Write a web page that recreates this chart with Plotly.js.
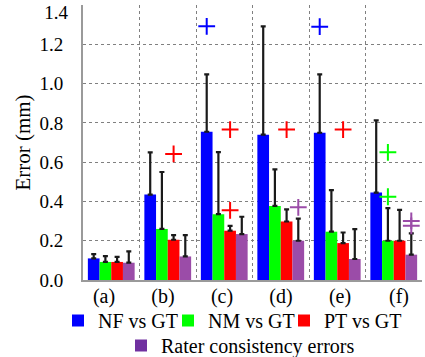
<!DOCTYPE html>
<html>
<head>
<meta charset="utf-8">
<script src="https://cdn.plot.ly/plotly-3.0.1.min.js"></script>
<style>html,body{margin:0;padding:0;background:#fff;} #chart{width:425px;height:357px;}</style>
</head>
<body>
<div id="chart"></div>
<script>
// ---- data ----
const categories = ['(a)', '(b)', '(c)', '(d)', '(e)', '(f)'];
const seriesNames = ['NF vs GT', 'NM vs GT', 'PT vs GT', 'Rater consistency errors'];
const nfMean = [0.11, 0.435, 0.755, 0.74, 0.75, 0.445];
const nmMean = [0.092, 0.26, 0.335, 0.377, 0.246, 0.20];
const ptMean = [0.092, 0.205, 0.251, 0.298, 0.188, 0.20];
const rcMean = [0.088, 0.12, 0.234, 0.20, 0.107, 0.129];
const nfErrTop = [0.132, 0.65, 1.047, 1.292, 1.047, 0.813];
const nmErrTop = [0.122, 0.55, 0.651, 0.563, 0.458, 0.366];
const ptErrTop = [0.118, 0.229, 0.276, 0.36, 0.242, 0.357];
const rcErrTop = [0.146, 0.229, 0.322, 0.313, 0.259, 0.237];
// outliers: category index and value
const nfOutCat = [2, 4], nfOutVal = [1.292, 1.29];
const nmOutCat = [5, 5], nmOutVal = [0.65, 0.424];
const ptOutCat = [1, 2, 2, 3, 4], ptOutVal = [0.642, 0.766, 0.355, 0.766, 0.766];
const rcOutCat = [3, 5, 5], rcOutVal = [0.37, 0.301, 0.276];
const yTicks = [0, 0.2, 0.4, 0.6, 0.8, 1.0, 1.2, 1.4];

// ---- styling ----
const colors = ['#0000ff', '#00ff00', '#ff0000', '#9b4ca8'];
const legendColors = ['#0000ff', '#00ff00', '#ff0000', '#7030a0'];
const font = '"Times New Roman", "Liberation Serif", Times, serif';
const barW = 0.207;
const idx = categories.map((_, i) => i);
const legendIds = ['legend', 'legend2', 'legend3', 'legend4'];

const means = [nfMean, nmMean, ptMean, rcMean];
const tops = [nfErrTop, nmErrTop, ptErrTop, rcErrTop];
const outCats = [nfOutCat, nmOutCat, ptOutCat, rcOutCat];
const outVals = [nfOutVal, nmOutVal, ptOutVal, rcOutVal];

const traces = [];
means.forEach((m, s) => {
  const off = (s - 2) * barW;
  traces.push({
    type: 'bar', x: idx, y: m, width: barW, offset: off,
    name: seriesNames[s], showlegend: false,
    marker: {color: colors[s], line: {width: 0}},
    error_y: {type: 'data', symmetric: false,
      array: tops[s].map((t, i) => t - m[i]), arrayminus: m.map(() => 0),
      color: '#1a1a1a', thickness: 2.2, width: 2.5},
    hoverinfo: 'skip'
  });
});
outCats.forEach((c, s) => {
  const off = (s - 2) * barW + barW / 2;
  traces.push({
    type: 'scatter', mode: 'markers', x: c.map(v => v + off), y: outVals[s],
    showlegend: false, hoverinfo: 'skip',
    marker: {symbol: 'cross-thin-open', size: 12, line: {width: 2, color: colors[s]}, color: colors[s]}
  });
});
// legend entries (one legend each for free placement)
seriesNames.forEach((n, s) => {
  traces.push({type: 'bar', x: [null], y: [null], name: n, legend: legendIds[s],
    marker: {color: legendColors[s]}, showlegend: true, hoverinfo: 'skip'});
});
// dummy traces for label axes
traces.push({type: 'scatter', x: [null], y: [null], xaxis: 'x2', showlegend: false, hoverinfo: 'skip'});
traces.push({type: 'scatter', x: [null], y: [null], yaxis: 'y2', showlegend: false, hoverinfo: 'skip'});

const legBase = {orientation: 'h', xref: 'container', yref: 'container', xanchor: 'left', yanchor: 'top',
  font: {family: font, size: 20}, bgcolor: 'rgba(0,0,0,0)', borderwidth: 0};
const legPos = [[58, 301], [168, 301], [284, 301], [121, 326]];

const layout = {
  width: 425, height: 357,
  margin: {l: 83, r: 3, t: 5, b: 77},
  paper_bgcolor: '#fff', plot_bgcolor: '#fff',
  font: {family: font, size: 19, color: '#000'},
  barmode: 'overlay',
  showlegend: true,
  xaxis: {
    range: [-0.5, 5.5], showticklabels: false, ticks: '',
    tickvals: [], showgrid: false, zeroline: false,
    showline: true, linecolor: '#9a9a9a', linewidth: 2,
    minor: {tickvals: [0.5, 1.5, 2.5, 3.5, 4.5, 5.5], showgrid: true, griddash: 'dot', gridcolor: '#808080', gridwidth: 1, ticks: ''}
  },
  xaxis2: {
    overlaying: 'x', anchor: 'y', side: 'bottom', range: [-0.356, 5.39],
    tickvals: idx, ticktext: categories, ticks: '', showgrid: false, zeroline: false, showline: false,
    tickfont: {family: font, size: 20}, ticklabelstandoff: 2
  },
  yaxis: {
    range: [0, 1.4005], tickvals: yTicks, ticktext: yTicks.map(v => v === 1.4 ? '' : v.toFixed(1)),
    ticks: '', ticklabelstandoff: 14, tickfont: {family: font, size: 19},
    showgrid: true, griddash: 'dot', gridcolor: '#808080', gridwidth: 1,
    zeroline: false, showline: true, linecolor: '#9a9a9a', linewidth: 2,
    title: {text: 'Error (mm)', font: {family: font, size: 21}, standoff: 3}
  },
  yaxis2: {
    overlaying: 'y', anchor: 'x', side: 'left', range: [0, 1.44],
    tickvals: [yTicks[yTicks.length - 1]], ticktext: [yTicks[yTicks.length - 1].toFixed(1)],
    ticks: '', ticklabelstandoff: 14, tickfont: {family: font, size: 19},
    showgrid: false, zeroline: false, showline: false
  }
};
legendIds.forEach((id, s) => {
  layout[id] = Object.assign({}, legBase, {x: legPos[s][0] / 425, y: 1 - legPos[s][1] / 357});
});

Plotly.newPlot('chart', traces, layout, {displayModeBar: false, staticPlot: true});
</script>
</body>
</html>
